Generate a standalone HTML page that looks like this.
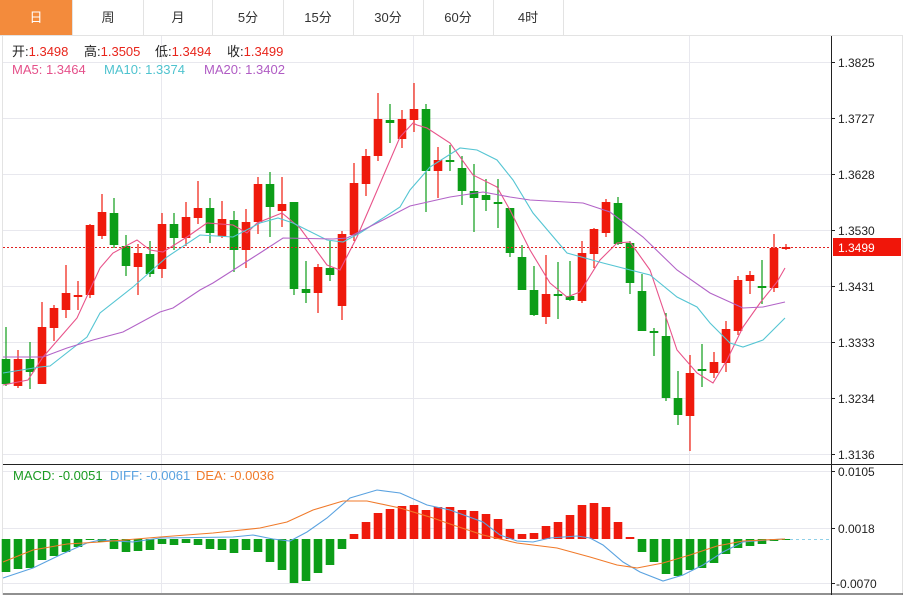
<!DOCTYPE html>
<html><head><meta charset="utf-8"><style>
body{margin:0;background:#fff;width:913px;height:595px;overflow:hidden;font-family:"Liberation Sans","Noto Sans CJK SC",sans-serif;}
svg{position:absolute;left:0;top:0}
</style></head><body>
<svg id="s" width="913" height="595" xmlns="http://www.w3.org/2000/svg" font-family="Liberation Sans, Noto Sans CJK SC, sans-serif">
<rect x="0" y="0" width="72" height="35" fill="#f38b3c"/>
<g stroke="#e3e3e3" stroke-width="1">
<line x1="72.5" y1="0" x2="72.5" y2="35"/><line x1="143.5" y1="0" x2="143.5" y2="35"/><line x1="212.5" y1="0" x2="212.5" y2="35"/><line x1="283.5" y1="0" x2="283.5" y2="35"/><line x1="353.5" y1="0" x2="353.5" y2="35"/><line x1="423.5" y1="0" x2="423.5" y2="35"/><line x1="493.5" y1="0" x2="493.5" y2="35"/><line x1="563.5" y1="0" x2="563.5" y2="35"/>
<line x1="0" y1="35.5" x2="903" y2="35.5"/>
<line x1="2.5" y1="35" x2="2.5" y2="595"/><line x1="902.5" y1="35" x2="902.5" y2="595"/>
</g>
<g font-size="13" text-anchor="middle" fill="#333">
<text x="36" y="22" fill="#fff">日</text><text x="108" y="22">周</text><text x="178" y="22">月</text><text x="248" y="22">5分</text><text x="318" y="22">15分</text><text x="388" y="22">30分</text><text x="458" y="22">60分</text><text x="528" y="22">4时</text>
</g>
<g stroke="#e8e8ee" stroke-width="1" id="grid">
<line x1="3" y1="62.5" x2="831" y2="62.5"/><line x1="3" y1="118.5" x2="831" y2="118.5"/><line x1="3" y1="174.5" x2="831" y2="174.5"/><line x1="3" y1="230.5" x2="831" y2="230.5"/><line x1="3" y1="286.5" x2="831" y2="286.5"/><line x1="3" y1="342.5" x2="831" y2="342.5"/><line x1="3" y1="398.5" x2="831" y2="398.5"/><line x1="3" y1="454.5" x2="831" y2="454.5"/>
<line x1="3" y1="471.5" x2="831" y2="471.5"/><line x1="3" y1="528.5" x2="831" y2="528.5"/><line x1="3" y1="583.5" x2="831" y2="583.5"/>
<line x1="161.5" y1="36" x2="161.5" y2="593"/><line x1="413.5" y1="36" x2="413.5" y2="593"/><line x1="689.5" y1="36" x2="689.5" y2="593"/>
</g>
<g font-size="13">
<text x="12" y="56" fill="#222">开:<tspan fill="#e8251b">1.3498</tspan></text>
<text x="84" y="56" fill="#222">高:<tspan fill="#e8251b">1.3505</tspan></text>
<text x="155" y="56" fill="#222">低:<tspan fill="#e8251b">1.3494</tspan></text>
<text x="227" y="56" fill="#222">收:<tspan fill="#e8251b">1.3499</tspan></text>
<text x="12" y="74" fill="#e5508a">MA5: 1.3464</text>
<text x="104" y="74" fill="#4fc3cf">MA10: 1.3374</text>
<text x="204" y="74" fill="#b05cc4">MA20: 1.3402</text>
<text x="13" y="480" fill="#1a9a22">MACD: -0.0051</text>
<text x="110" y="480" fill="#5aa2e0">DIFF: -0.0061</text>
<text x="196" y="480" fill="#f07a2a">DEA: -0.0036</text>
</g>
<g id="c"></g>
<line x1="3" y1="247.5" x2="831" y2="247.5" stroke="#e02020" stroke-dasharray="2,2"/>
<line x1="790" y1="539.5" x2="831" y2="539.5" stroke="#8fd0e8" stroke-dasharray="3,3"/>
<line x1="831.5" y1="36" x2="831.5" y2="595" stroke="#222"/>
<line x1="3" y1="464.5" x2="903" y2="464.5" stroke="#222"/>
<line x1="3" y1="594" x2="903" y2="594" stroke="#222"/>
<g stroke="#222"><line x1="831" y1="62.5" x2="835" y2="62.5"/><line x1="831" y1="118.5" x2="835" y2="118.5"/><line x1="831" y1="174.5" x2="835" y2="174.5"/><line x1="831" y1="230.5" x2="835" y2="230.5"/><line x1="831" y1="286.5" x2="835" y2="286.5"/><line x1="831" y1="342.5" x2="835" y2="342.5"/><line x1="831" y1="398.5" x2="835" y2="398.5"/><line x1="831" y1="454.5" x2="835" y2="454.5"/><line x1="831" y1="471.5" x2="835" y2="471.5"/><line x1="831" y1="528.5" x2="835" y2="528.5"/><line x1="831" y1="583.5" x2="835" y2="583.5"/></g>
<g font-size="12" fill="#222">
<text x="838" y="67">1.3825</text><text x="838" y="123">1.3727</text><text x="838" y="179">1.3628</text><text x="838" y="235">1.3530</text><text x="838" y="291">1.3431</text><text x="838" y="347">1.3333</text><text x="838" y="403">1.3234</text><text x="838" y="459">1.3136</text>
<text x="838" y="476">0.0105</text><text x="838" y="533">0.0018</text><text x="836" y="588">-0.0070</text>
</g>
<rect x="833" y="238" width="68" height="18" fill="#f0160a"/>
<text x="838" y="252" font-size="12" fill="#fff">1.3499</text>
</svg>
<script>
var R='#ef1a0c',G='#0c9d18';
var C=[['g',359,384,327,386],['r',359,386,350,388],['g',359,372,342,389],['r',327,384,302,384],['r',308,328,305,341],['r',293,310,265,318],['r',295,297,281,310],['r',225,295,224,298],['r',212,236,194,239],['g',213,245,198,248],['g',246,266,235,276],['r',253,267,244,295],['g',254,274,241,277],['r',224,269,213,278],['g',224,238,213,250],['r',217,238,202,246],['r',208,218,181,224],['g',208,233,198,243],['r',219,236,201,238],['g',220,250,211,272],['r',222,250,209,268],['r',184,222,177,234],['g',184,207,172,237],['r',204,211,177,227],['g',202,289,202,295],['g',289,293,261,303],['r',267,293,264,313],['g',268,275,241,281],['r',234,306,231,320],['r',183,235,163,241],['r',156,184,149,196],['r',119,156,93,161],['g',120,123,104,143],['r',119,139,110,148],['r',109,120,83,132],
['g',109,171,104,212],['r',160,171,147,198],['g',160,162,145,171],['g',168,191,156,205],['g',191,198,164,232],['g',195,200,179,211],['g',202,204,179,228],['g',208,253,208,257],['g',257,290,245,290],['g',290,315,266,316],['r',294,317,255,324],['g',294,296,262,319],['g',296,300,261,301],['r',253,301,241,303],['r',229,254,228,268],['r',202,233,199,237],['g',203,244,197,245],['g',243,283,241,294],['g',291,331,274,331],['g',331,333,328,356],['g',336,398,313,401],['g',398,415,371,425],['r',373,416,355,451],['g',369,371,344,387],['r',362,373,352,378],['r',329,363,321,372],['r',280,331,276,335],['r',275,281,271,294],['g',286,287,260,304],['r',248,288,234,292],['r',247,248,244,250]];
var M=[572,569,568,560,556,552,547,540,542,549,552,551,550,544,545,543,545,549,550,553,550,552,562,570,583,581,573,565,549,534,522,513,509,506,505,510,507,507,510,511,514,519,529,534,533,526,522,515,505,503,507,522,537,552,562,574,576,570,568,563,554,548,546,544,541,540];
var s='';
function pl(p,c){return '<polyline fill="none" stroke="'+c+'" stroke-width="1.1" points="'+p+'"/>';}
C.forEach(function(d,i){var x=6+12*i,col=d[0]=='r'?R:G;var t=Math.min(d[1],d[2]),b=Math.max(d[1],d[2]);if(b-t<2)b=t+2;
s+='<line x1="'+x+'" y1="'+d[3]+'" x2="'+x+'" y2="'+d[4]+'" stroke="'+col+'" stroke-width="1.2"/>';
s+='<rect x="'+(x-4.3)+'" y="'+t+'" width="8.6" height="'+(b-t)+'" fill="'+col+'"/>';});
M.forEach(function(v,i){var x=6+12*i;var col=v<539?R:G;var t=Math.min(v,539),h=Math.abs(v-539);if(h<1)return;
s+='<rect x="'+(x-4.3)+'" y="'+t+'" width="8.6" height="'+h+'" fill="'+col+'"/>';});
s+=pl('3,385 28,380 43,357 77,318 100,268 113,253 137,240 150,250 163,252 187,237 207,223 233,225 247,233 257,223 282,213 300,228 327,265 340,270 357,237 373,200 400,137 413,123 417,125 427,128 450,143 473,175 497,187 510,210 530,250 550,283 567,297 580,292 600,260 617,243 630,242 650,270 677,350 697,373 713,383 727,360 743,327 760,303 777,282 785,268','#e8538a');
s+=pl('3,373 40,367 50,366 87,337 100,313 133,287 167,257 200,235 233,237 260,223 278,218 293,223 327,240 343,242 360,233 400,207 410,190 430,167 460,148 477,150 497,160 513,180 533,213 567,253 603,263 650,275 677,297 697,307 710,323 730,343 743,347 763,340 785,318','#55c5d3');
s+=pl('3,357 43,357 67,348 93,340 123,332 160,312 173,308 200,290 213,283 260,253 283,238 333,239 347,238 383,220 410,206 450,197 483,192 510,197 530,200 583,203 610,212 643,237 677,270 710,293 743,308 763,307 785,302','#b263c7');
s+=pl('3,578 33,568 60,555 87,543 100,540 133,542 160,538 233,537 253,535 273,539 290,541 307,532 327,518 350,498 377,490 400,493 427,505 450,510 483,522 500,535 517,541 533,542 550,538 577,536 590,538 603,545 623,562 640,572 663,581 683,575 703,565 723,552 743,542 767,540 783,539','#5aa2e0');
s+=pl('3,562 33,550 67,544 100,542 160,537 213,533 260,528 287,522 313,510 343,501 367,501 400,508 433,518 450,524 483,535 517,543 557,548 590,557 617,565 637,568 663,563 690,555 717,546 743,541 785,539','#f07a2a');
document.getElementById('c').innerHTML=s;
</script>
</body></html>
